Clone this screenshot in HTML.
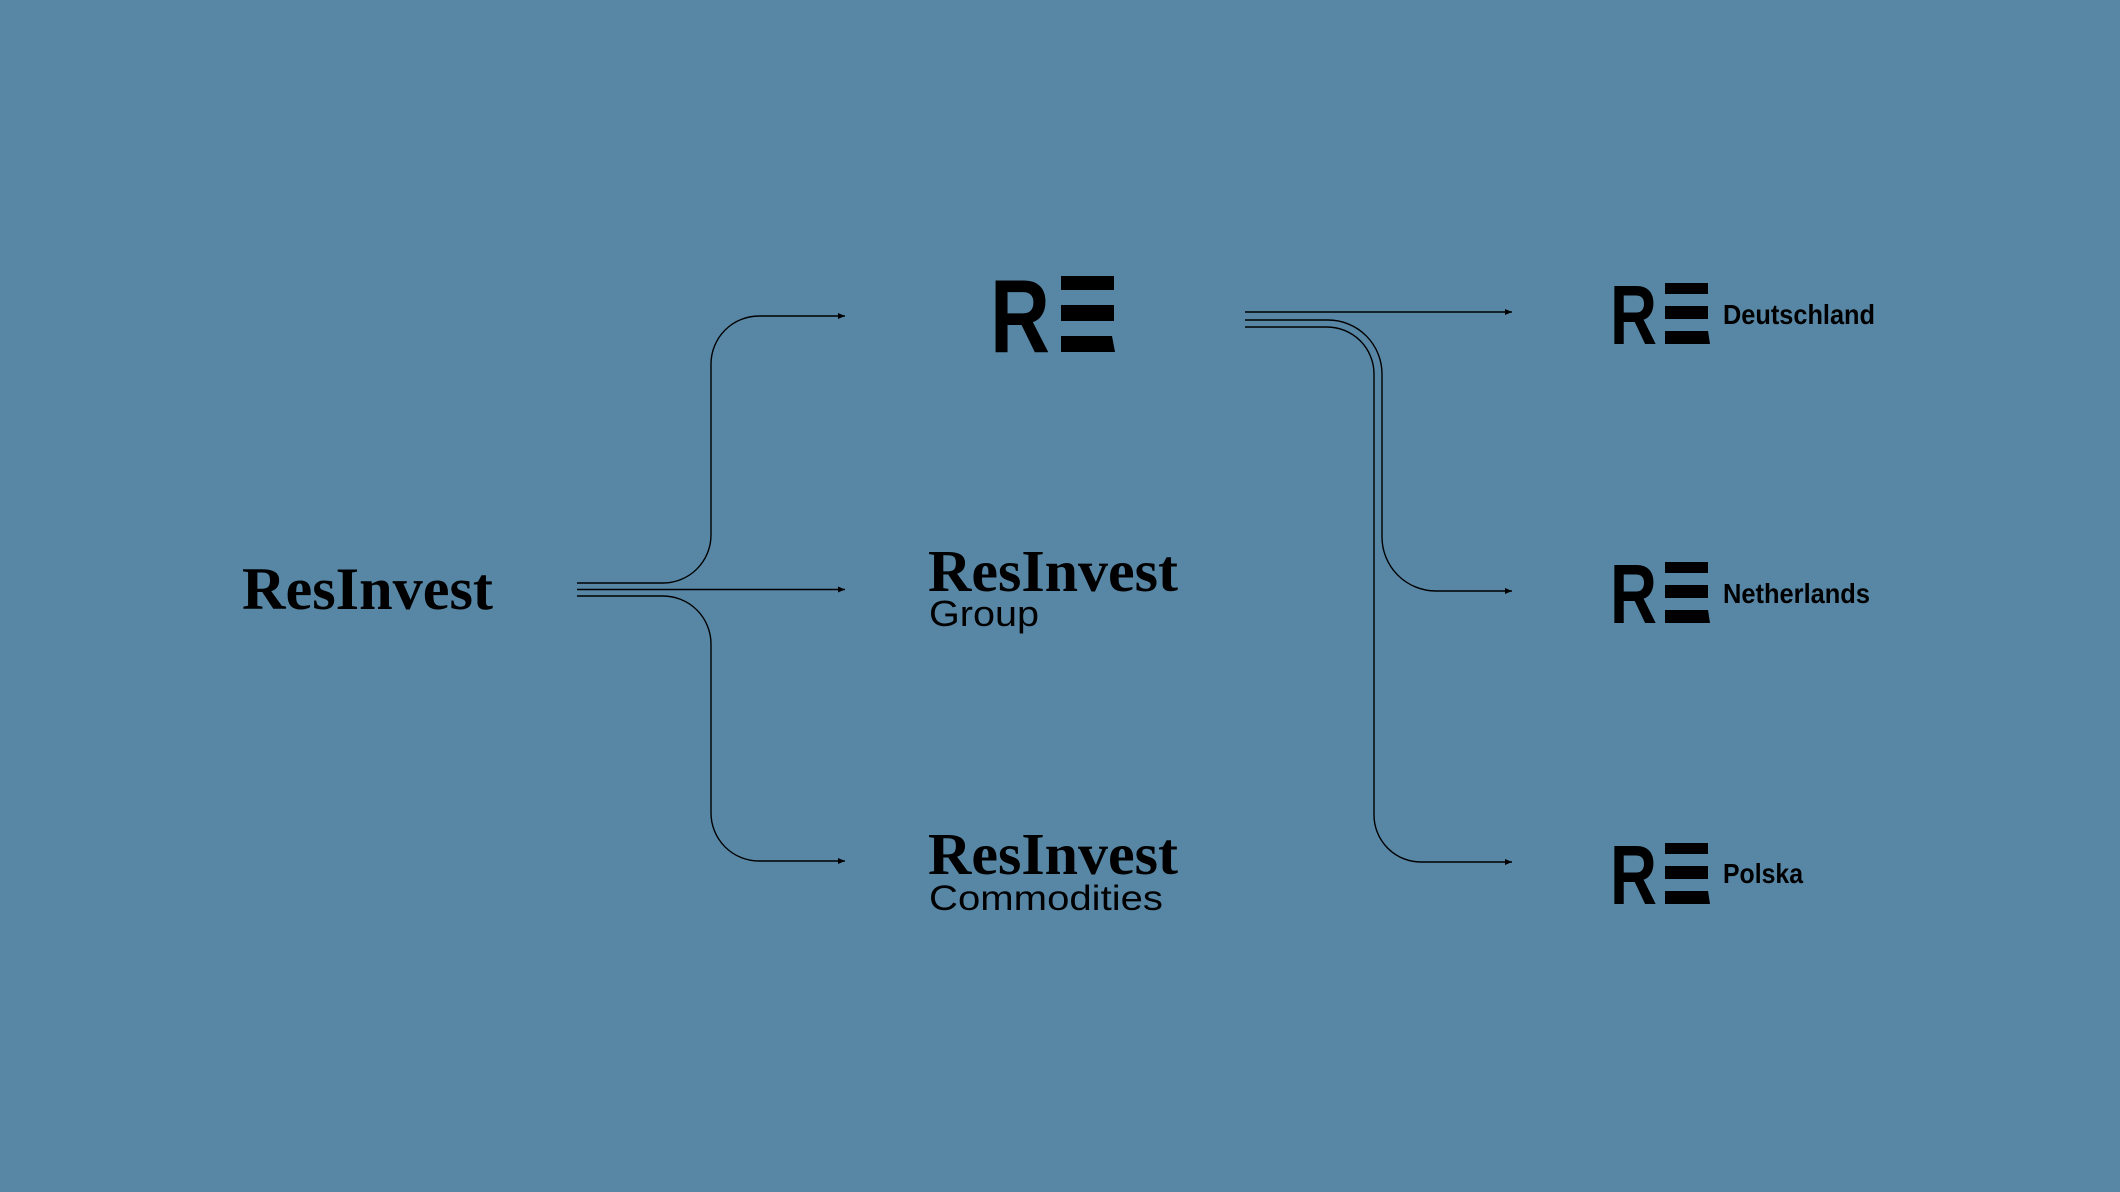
<!DOCTYPE html>
<html><head><meta charset="utf-8"><style>
html,body{margin:0;padding:0;background:#5887a6;}
svg{display:block}
</style></head><body>
<svg width="2120" height="1192" viewBox="0 0 2120 1192" xmlns="http://www.w3.org/2000/svg">
<rect width="2120" height="1192" fill="#5887a6"/>
<defs>
<marker id="ar" markerWidth="8" markerHeight="8" refX="7" refY="4" orient="auto" markerUnits="userSpaceOnUse">
<path d="M0,1 L7,4 L0,7 Z" fill="#000"/>
</marker>
</defs>
<g fill="none" stroke="#000" stroke-width="1.4">
<!-- left bracket -->
<path d="M577,583 H663 A48,48 0 0 0 711,535 V364 A48,48 0 0 1 759,316 H845" marker-end="url(#ar)"/>
<path d="M577,589.5 H845" marker-end="url(#ar)"/>
<path d="M577,596 H663 A48,48 0 0 1 711,644 V813 A48,48 0 0 0 759,861 H845" marker-end="url(#ar)"/>
<!-- right -->
<path d="M1245,312 H1512" marker-end="url(#ar)"/>
<path d="M1245,320 H1328 A54,54 0 0 1 1382,374 V537 A54,54 0 0 0 1436,591 H1512" marker-end="url(#ar)"/>
<path d="M1245,327 H1327 A47,47 0 0 1 1374,374 V815 A47,47 0 0 0 1421,862 H1512" marker-end="url(#ar)"/>
</g>
<g fill="#000">
<text x="242" y="609" font-family="Liberation Serif, serif" font-weight="bold" font-size="60" textLength="251" lengthAdjust="spacingAndGlyphs">ResInvest</text>
<!-- top RE -->
<text x="990" y="352" font-family="Liberation Sans, sans-serif" font-weight="bold" font-size="104" textLength="60" lengthAdjust="spacingAndGlyphs">R</text>
<rect x="1061" y="276" width="53" height="14"/>
<rect x="1061" y="305" width="53" height="16"/>
<path d="M1061,336 H1112 L1115,352 H1061 Z"/>
<!-- Group -->
<text x="928" y="591" font-family="Liberation Serif, serif" font-weight="bold" font-size="59" textLength="250" lengthAdjust="spacingAndGlyphs">ResInvest</text>
<text x="929" y="626" font-family="Liberation Sans, sans-serif" font-size="36" textLength="110" lengthAdjust="spacingAndGlyphs">Group</text>
<text x="928" y="874" font-family="Liberation Serif, serif" font-weight="bold" font-size="59" textLength="250" lengthAdjust="spacingAndGlyphs">ResInvest</text>
<text x="929" y="910" font-family="Liberation Sans, sans-serif" font-size="35" textLength="234" lengthAdjust="spacingAndGlyphs">Commodities</text>
<!-- small REs -->
<g transform="translate(1610,283)">
<text x="0" y="61" font-family="Liberation Sans, sans-serif" font-weight="bold" font-size="84" textLength="47" lengthAdjust="spacingAndGlyphs">R</text>
<rect x="55" y="0" width="43" height="11"/><rect x="55" y="23" width="43" height="13"/><path d="M55,48 H98 L100,61 H55 Z"/>
<text x="113" y="41" font-family="Liberation Sans, sans-serif" font-weight="bold" font-size="28" textLength="152" lengthAdjust="spacingAndGlyphs">Deutschland</text>
</g>
<g transform="translate(1610,562)">
<text x="0" y="61" font-family="Liberation Sans, sans-serif" font-weight="bold" font-size="84" textLength="47" lengthAdjust="spacingAndGlyphs">R</text>
<rect x="55" y="0" width="43" height="11"/><rect x="55" y="23" width="43" height="13"/><path d="M55,48 H98 L100,61 H55 Z"/>
<text x="113" y="41" font-family="Liberation Sans, sans-serif" font-weight="bold" font-size="28" textLength="147" lengthAdjust="spacingAndGlyphs">Netherlands</text>
</g>
<g transform="translate(1610,843)">
<text x="0" y="61" font-family="Liberation Sans, sans-serif" font-weight="bold" font-size="84" textLength="47" lengthAdjust="spacingAndGlyphs">R</text>
<rect x="55" y="0" width="43" height="11"/><rect x="55" y="23" width="43" height="13"/><path d="M55,48 H98 L100,61 H55 Z"/>
<text x="113" y="40" font-family="Liberation Sans, sans-serif" font-weight="bold" font-size="28" textLength="80" lengthAdjust="spacingAndGlyphs">Polska</text>
</g>
</g>
</svg>
</body></html>
